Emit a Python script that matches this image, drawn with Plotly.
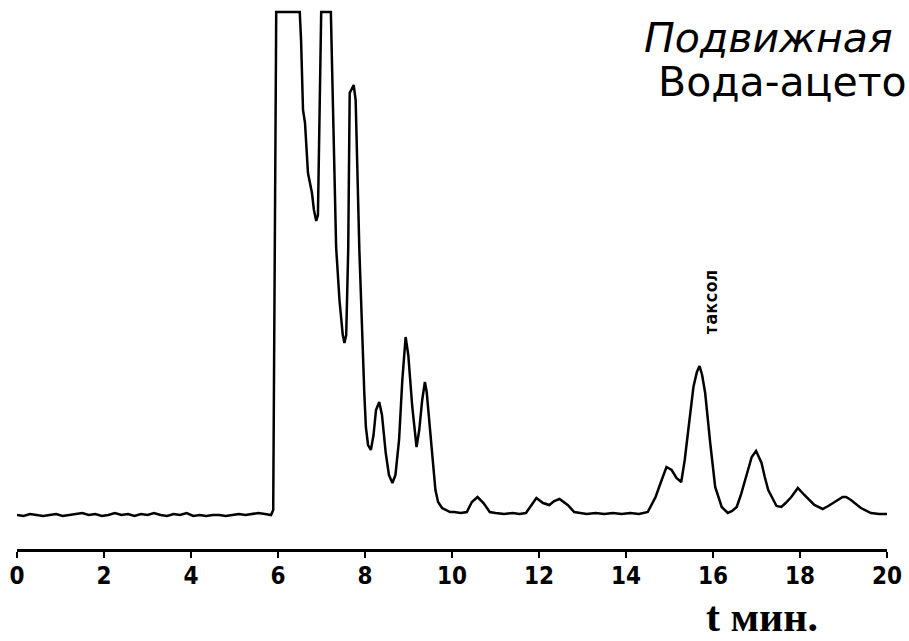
import plotly.graph_objects as go

# Retention time (min) and detector signal (arbitrary units, baseline = 0, 503 = saturated)
time_min = [
    0.00, 0.15, 0.30, 0.45, 0.60, 0.75, 0.90, 1.05, 1.20, 1.35, 1.50, 1.65, 1.80, 1.95,
    2.10, 2.25, 2.40, 2.55, 2.70, 2.85, 3.00, 3.15, 3.30, 3.45, 3.60, 3.75, 3.90, 4.05,
    4.20, 4.35, 4.50, 4.65, 4.80, 4.95, 5.10, 5.25, 5.40, 5.55, 5.70, 5.84,
    5.89, 5.913, 5.936, 5.959, 6.50, 6.53, 6.575, 6.621, 6.689, 6.781, 6.826, 6.879,
    6.918, 6.963, 6.993, 7.215, 7.26, 7.306, 7.336, 7.413, 7.489, 7.527, 7.568, 7.614,
    7.648, 7.74, 7.785, 7.87, 7.906, 7.945, 7.984, 8.02, 8.07, 8.135, 8.196, 8.253,
    8.327, 8.39, 8.477, 8.55, 8.63, 8.70, 8.783, 8.858, 8.934, 8.995, 9.087, 9.185,
    9.247, 9.315, 9.377, 9.418, 9.468, 9.543, 9.619, 9.68, 9.772, 9.954, 10.05, 10.20,
    10.34, 10.457, 10.587, 10.724, 10.868, 11.00, 11.20, 11.40, 11.55, 11.70, 11.826,
    11.94, 12.093, 12.237, 12.35, 12.47, 12.66, 12.81, 12.95, 13.10, 13.30, 13.50,
    13.70, 13.90, 14.10, 14.30, 14.50, 14.68, 14.795, 14.93, 15.05, 15.16, 15.27,
    15.35, 15.44, 15.55, 15.63, 15.69, 15.75, 15.82, 15.936, 16.05, 16.20, 16.34,
    16.44, 16.545, 16.64, 16.735, 16.89, 16.99, 17.116, 17.19, 17.27, 17.46, 17.57,
    17.67, 17.80, 17.95, 18.01, 18.10, 18.33, 18.52, 18.65, 18.79, 18.98, 19.06,
    19.17, 19.40, 19.63, 19.82, 20.00,
]
signal = [
    0, -1, 1, 0, -1, 0, 1, -1, 0, 1, 2, 0, 1, -1,
    0, 2, 0, 1, -1, 1, 0, 2, 0, -1, 1, 0, 2, -1,
    0, -1, 0, 0, -1, 0, 1, 0, 1, 2, 1, 0,
    5, 215, 415, 503, 503, 475, 405, 392, 342, 322, 305, 294,
    300, 415, 503, 503, 408, 315, 268, 215, 180, 172, 180, 265,
    422, 430, 415, 265, 215, 162, 122, 88, 70, 65, 80, 105,
    113, 100, 62, 40, 32, 40, 75, 135, 178, 160, 108, 68,
    85, 115, 133, 123, 98, 55, 25, 13, 7, 3, 3, 2,
    3, 13, 18, 12, 3, 2, 1, 2, 1, 2, 10,
    17, 12, 10, 14, 16, 10, 3, 2, 1, 2, 1,
    2, 1, 2, 1, 3, 18, 32, 48, 45, 37, 33,
    55, 88, 128, 143, 149, 140, 122, 72, 28, 8, 2,
    4, 8, 20, 35, 58, 64, 52, 38, 25, 9, 8,
    12, 18, 27, 24, 20, 10, 6, 9, 13, 18, 18,
    15, 7, 2, 1, 1,
]

tick_vals = [0, 2, 4, 6, 8, 10, 12, 14, 16, 18, 20]
tick_text = ["0", "2", "4", "6", "8", "10", "12", "14", "16", "18", "20"]

peak_label = "таксол"
peak_time = 15.92
peak_label_y = 212

title_line1 = "Подвижная"
title_line2 = "Вода-ацето"
axis_title = "t мин."

fig = go.Figure()
fig.add_trace(go.Scatter(
    x=time_min, y=signal, mode="lines",
    line=dict(color="black", width=2.5),
    hoverinfo="skip", showlegend=False,
))

fig.update_layout(
    width=909, height=641,
    margin=dict(l=17, r=16, t=7, b=92),
    paper_bgcolor="white", plot_bgcolor="white",
    xaxis=dict(
        range=[0, 20], tickvals=tick_vals, ticktext=tick_text,
        showline=True, linecolor="black", linewidth=3,
        ticks="outside", ticklen=6, tickwidth=2, tickcolor="black",
        ticklabelstandoff=-3,
        showgrid=False, zeroline=False,
        tickfont=dict(family="Liberation Sans Narrow, DejaVu Sans Condensed, Liberation Sans",
                      size=24, color="black", weight="bold"),
        fixedrange=True,
    ),
    yaxis=dict(range=[-34, 508], visible=False, showgrid=False, zeroline=False, fixedrange=True),
    annotations=[
        dict(text=peak_label, x=peak_time, y=peak_label_y, xref="x", yref="y",
             textangle=-90, showarrow=False,
             font=dict(family="DejaVu Sans Mono", size=18, color="black", weight="bold")),
        dict(text=title_line1, x=0.7180, y=0.942, xref="paper", yref="paper",
             xanchor="left", yanchor="middle", showarrow=False,
             font=dict(family="DejaVu Sans", size=41, color="black", style="italic")),
        dict(text=title_line2, x=0.7340, y=0.861, xref="paper", yref="paper",
             xanchor="left", yanchor="middle", showarrow=False,
             font=dict(family="DejaVu Sans", size=41, color="black")),
        dict(text=axis_title, x=0.8562, y=-0.126, xref="paper", yref="paper",
             xanchor="center", yanchor="middle", showarrow=False,
             font=dict(family="Liberation Serif", size=42, color="black", weight="bold")),
    ],
)

fig.write_html("out.html")
